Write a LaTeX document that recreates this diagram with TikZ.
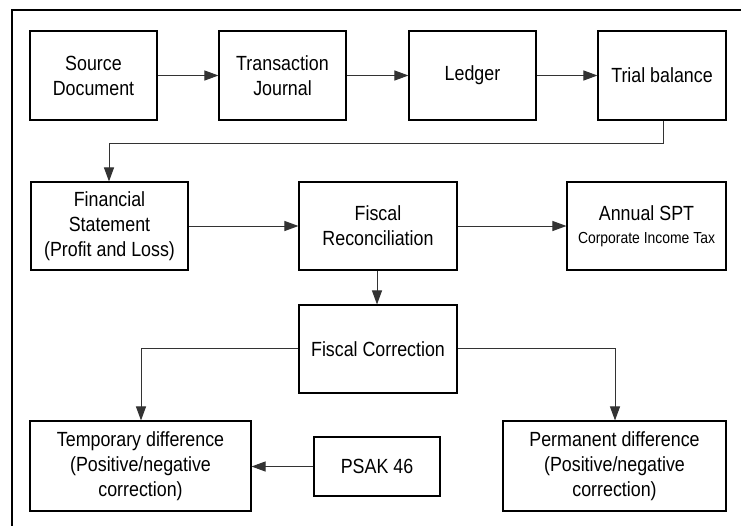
\documentclass[tikz,border=0pt]{standalone}
\usepackage{fontspec}
\setmainfont[FakeStretch=0.87]{Liberation Sans}
\usetikzlibrary{arrows.meta}
\begin{document}
\begin{tikzpicture}[x=1pt,y=-1pt,
  box/.style={draw=black,line width=1.1pt,rectangle,align=center,inner sep=0pt,
    font=\fontsize{20.5}{25}\selectfont},
  conn/.style={draw=black!80,line width=1pt,-{Triangle[length=14pt,width=10pt]}}]
\useasboundingbox (0,0) rectangle (741,525);
\fill[white] (0,0) rectangle (741,525);
\draw[line width=2pt] (12,527) -- (12,10) -- (743,10);
% row 1
\node[box,minimum width=127pt,minimum height=89pt] (src) at (93.5,75.5) {Source\\Document};
\node[box,minimum width=127pt,minimum height=89pt] (tj) at (282.5,75.5) {Transaction\\Journal};
\node[box,minimum width=127pt,minimum height=89pt] (led) at (472.5,75.5) {Ledger};
\node[box,minimum width=128pt,minimum height=89pt] (tb) at (662,75.5) {Trial balance};
% row 2
\node[box,minimum width=157pt,minimum height=88pt] (fs) at (109.5,226) {Financial\\Statement\\(Profit and Loss)};
\node[box,minimum width=158pt,minimum height=88pt] (fr) at (378,226) {Fiscal\\Reconciliation};
\node[box,minimum width=159pt,minimum height=88pt] (spt) at (646.5,226) {Annual SPT\\[-2pt]{\fontsize{16}{19}\selectfont Corporate Income Tax}};
% row 3
\node[box,minimum width=158pt,minimum height=88pt] (fc) at (378,349) {Fiscal Correction};
% row 4
\node[box,minimum width=221pt,minimum height=90pt] (tmp) at (140.5,466) {Temporary difference\\(Positive/negative\\correction)};
\node[box,minimum width=126pt,minimum height=59pt] (psak) at (377,466.5) {PSAK 46};
\node[box,minimum width=223pt,minimum height=90pt] (perm) at (614.5,466) {Permanent difference\\(Positive/negative\\correction)};
% connectors
\coordinate (c1) at (663,143);
\coordinate (c2) at (109,143);
\coordinate (c3) at (141,348);
\coordinate (c4) at (615,348);
\draw[conn] (src) -- (tj);
\draw[conn] (tj) -- (led);
\draw[conn] (led) -- (tb);
\draw[conn] (tb.south -| c1) -- (c1) -- (c2) -- (fs.north -| c2);
\draw[conn] (fs) -- (fr);
\draw[conn] (fr) -- (spt);
\draw[conn] (fr.south -| 377,0) -- (fc.north -| 377,0);
\draw[conn] (fc.west |- c3) -- (c3) -- (tmp.north -| c3);
\draw[conn] (fc.east |- c4) -- (c4) -- (perm.north -| c4);
\draw[conn] (psak) -- (tmp.east |- psak);
\end{tikzpicture}
\end{document}
